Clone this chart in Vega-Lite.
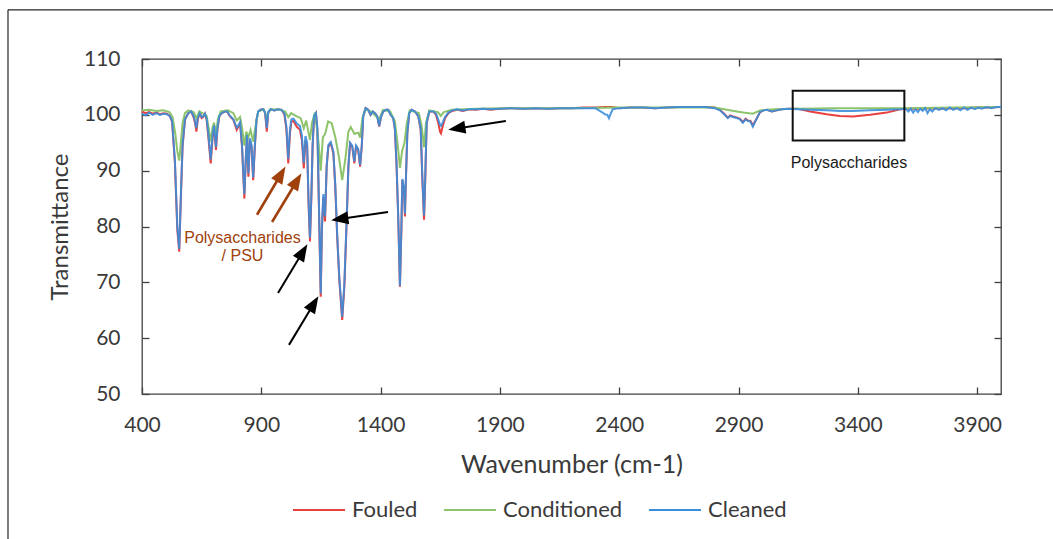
{
  "$schema": "https://vega.github.io/schema/vega-lite/v6.json",
  "width": 859,
  "height": 335,
  "autosize": "none",
  "padding": {"left": 142, "top": 59, "right": 52, "bottom": 145},
  "background": "#ffffff",
  "config": {
    "view": {"stroke": "#404040", "strokeWidth": 1.3},
    "axis": {
      "domain": false,
      "grid": false,
      "tickColor": "#404040",
      "tickWidth": 1.3,
      "tickSize": -7,
      "labelFont": "Lato",
      "labelFontSize": 21,
      "labelColor": "#3a3a3a",
      "titleFont": "Lato",
      "titleFontSize": 24,
      "titleFontWeight": "normal",
      "titleColor": "#3a3a3a"
    }
  },
  "datasets": {
    "fouled": [
      {"x":400,"y":100.6},{"x":415,"y":100.3},{"x":430,"y":100.5},{"x":445,"y":100.2},{"x":460,"y":100.4},{"x":475,"y":100.1},{"x":490,"y":100.3},{"x":505,"y":100.2},{"x":516,"y":99.8},{"x":526,"y":98.8},{"x":538,"y":91.3},{"x":548,"y":79.4},{"x":556,"y":75.5},{"x":563,"y":85.3},{"x":570,"y":94.3},{"x":580,"y":99.1},{"x":594,"y":100.3},{"x":606,"y":100.6},{"x":616,"y":99.6},{"x":622,"y":98.6},{"x":628,"y":97.0},{"x":634,"y":99.2},{"x":642,"y":100.3},{"x":650,"y":99.4},{"x":656,"y":99.6},{"x":664,"y":100.2},{"x":671,"y":99.1},{"x":678,"y":96.1},{"x":688,"y":91.3},{"x":696,"y":96.1},{"x":702,"y":97.9},{"x":710,"y":93.7},{"x":716,"y":97.3},{"x":724,"y":99.7},{"x":734,"y":100.3},{"x":748,"y":100.6},{"x":757,"y":100.6},{"x":769,"y":99.7},{"x":783,"y":99.1},{"x":797,"y":97.3},{"x":804,"y":97.9},{"x":811,"y":98.5},{"x":819,"y":94.3},{"x":829,"y":85.0},{"x":835,"y":91.9},{"x":840,"y":96.1},{"x":846,"y":88.9},{"x":852,"y":95.5},{"x":859,"y":94.3},{"x":866,"y":88.3},{"x":873,"y":94.3},{"x":880,"y":99.1},{"x":887,"y":100.6},{"x":897,"y":100.9},{"x":908,"y":101.0},{"x":916,"y":100.3},{"x":923,"y":97.0},{"x":929,"y":100.4},{"x":940,"y":101.0},{"x":955,"y":100.8},{"x":970,"y":101.0},{"x":985,"y":100.9},{"x":997,"y":100.0},{"x":1005,"y":97.5},{"x":1013,"y":91.3},{"x":1020,"y":96.7},{"x":1026,"y":98.8},{"x":1035,"y":98.9},{"x":1048,"y":97.9},{"x":1062,"y":97.3},{"x":1070,"y":95.5},{"x":1078,"y":90.4},{"x":1085,"y":95.5},{"x":1092,"y":94.5},{"x":1098,"y":84.0},{"x":1104,"y":77.3},{"x":1110,"y":85.5},{"x":1115,"y":94.3},{"x":1121,"y":99.7},{"x":1129,"y":100.3},{"x":1135,"y":97.3},{"x":1142,"y":82.4},{"x":1149,"y":67.4},{"x":1154,"y":79.4},{"x":1160,"y":85.3},{"x":1167,"y":80.9},{"x":1174,"y":90.7},{"x":1181,"y":94.3},{"x":1191,"y":94.9},{"x":1202,"y":93.1},{"x":1210,"y":87.1},{"x":1218,"y":78.2},{"x":1227,"y":70.4},{"x":1239,"y":63.25},{"x":1248,"y":69.2},{"x":1258,"y":81.2},{"x":1265,"y":90.7},{"x":1272,"y":94.9},{"x":1281,"y":94.3},{"x":1290,"y":91.3},{"x":1297,"y":94.3},{"x":1306,"y":93.7},{"x":1314,"y":90.7},{"x":1321,"y":94.3},{"x":1327,"y":99.7},{"x":1337,"y":101.2},{"x":1348,"y":100.9},{"x":1358,"y":100.0},{"x":1367,"y":100.6},{"x":1376,"y":100.3},{"x":1386,"y":99.7},{"x":1394,"y":97.9},{"x":1402,"y":99.7},{"x":1411,"y":100.6},{"x":1423,"y":100.9},{"x":1432,"y":100.9},{"x":1442,"y":100.0},{"x":1453,"y":99.4},{"x":1460,"y":97.3},{"x":1467,"y":90.7},{"x":1474,"y":81.2},{"x":1481,"y":69.2},{"x":1487,"y":79.4},{"x":1491,"y":88.3},{"x":1498,"y":86.5},{"x":1502,"y":81.8},{"x":1506,"y":88.3},{"x":1512,"y":96.7},{"x":1520,"y":100.3},{"x":1530,"y":100.9},{"x":1544,"y":100.6},{"x":1558,"y":99.7},{"x":1568,"y":97.3},{"x":1575,"y":88.3},{"x":1582,"y":81.2},{"x":1587,"y":88.3},{"x":1593,"y":98.5},{"x":1604,"y":100.6},{"x":1621,"y":100.6},{"x":1632,"y":100.0},{"x":1642,"y":98.5},{"x":1649,"y":97.0},{"x":1653,"y":96.7},{"x":1660,"y":97.9},{"x":1670,"y":99.4},{"x":1684,"y":100.3},{"x":1700,"y":100.7},{"x":1720,"y":100.9},{"x":1745,"y":100.7},{"x":1770,"y":101.0},{"x":1800,"y":100.9},{"x":1830,"y":101.1},{"x":1860,"y":100.9},{"x":1900,"y":101.1},{"x":1950,"y":101.2},{"x":2000,"y":101.1},{"x":2050,"y":101.2},{"x":2100,"y":101.1},{"x":2150,"y":101.2},{"x":2200,"y":101.2},{"x":2250,"y":101.3},{"x":2300,"y":101.3},{"x":2340,"y":101.4},{"x":2370,"y":101.4},{"x":2400,"y":101.2},{"x":2450,"y":101.3},{"x":2500,"y":101.3},{"x":2550,"y":101.2},{"x":2600,"y":101.3},{"x":2650,"y":101.4},{"x":2700,"y":101.4},{"x":2760,"y":101.4},{"x":2800,"y":101.3},{"x":2822,"y":100.9},{"x":2840,"y":100.2},{"x":2855,"y":99.5},{"x":2865,"y":99.9},{"x":2877,"y":99.7},{"x":2895,"y":99.5},{"x":2906,"y":99.3},{"x":2918,"y":98.7},{"x":2930,"y":99.3},{"x":2939,"y":99.0},{"x":2950,"y":98.9},{"x":2960,"y":98.1},{"x":2970,"y":98.9},{"x":2977,"y":99.4},{"x":2990,"y":100.5},{"x":3005,"y":100.8},{"x":3019,"y":100.9},{"x":3040,"y":100.6},{"x":3060,"y":100.8},{"x":3080,"y":101.0},{"x":3110,"y":101.1},{"x":3150,"y":101.1},{"x":3200,"y":100.6},{"x":3269,"y":100.1},{"x":3325,"y":99.8},{"x":3380,"y":99.7},{"x":3451,"y":100.0},{"x":3521,"y":100.4},{"x":3577,"y":101.0},{"x":3610,"y":101.1},{"x":3650,"y":101.1},{"x":3700,"y":101.2},{"x":3750,"y":101.1},{"x":3800,"y":101.2},{"x":3850,"y":101.2},{"x":3900,"y":101.3},{"x":3950,"y":101.3},{"x":4000,"y":101.4}
    ],
    "conditioned": [
      {"x":400,"y":100.8},{"x":430,"y":100.9},{"x":460,"y":100.7},{"x":490,"y":100.8},{"x":515,"y":100.5},{"x":528,"y":99.6},{"x":540,"y":96.5},{"x":548,"y":93.5},{"x":556,"y":91.8},{"x":563,"y":95.0},{"x":570,"y":98.5},{"x":580,"y":100.3},{"x":594,"y":100.8},{"x":616,"y":100.5},{"x":628,"y":99.4},{"x":640,"y":100.6},{"x":656,"y":100.2},{"x":671,"y":99.8},{"x":680,"y":97.5},{"x":688,"y":95.2},{"x":696,"y":97.8},{"x":702,"y":98.6},{"x":710,"y":96.5},{"x":718,"y":99.2},{"x":730,"y":100.6},{"x":760,"y":100.8},{"x":783,"y":100.3},{"x":797,"y":99.0},{"x":811,"y":99.6},{"x":820,"y":97.5},{"x":829,"y":94.5},{"x":837,"y":97.0},{"x":846,"y":96.0},{"x":855,"y":97.3},{"x":866,"y":95.2},{"x":875,"y":97.8},{"x":887,"y":100.6},{"x":910,"y":101.0},{"x":923,"y":99.6},{"x":935,"y":100.9},{"x":970,"y":101.0},{"x":1000,"y":100.6},{"x":1013,"y":99.6},{"x":1025,"y":100.3},{"x":1045,"y":99.8},{"x":1065,"y":99.4},{"x":1078,"y":97.6},{"x":1088,"y":99.0},{"x":1097,"y":97.0},{"x":1104,"y":95.5},{"x":1112,"y":98.5},{"x":1125,"y":100.4},{"x":1140,"y":95.0},{"x":1149,"y":90.0},{"x":1158,"y":96.0},{"x":1167,"y":96.5},{"x":1180,"y":98.8},{"x":1195,"y":98.5},{"x":1210,"y":96.0},{"x":1225,"y":92.5},{"x":1239,"y":88.3},{"x":1252,"y":92.0},{"x":1265,"y":97.0},{"x":1275,"y":97.8},{"x":1290,"y":96.6},{"x":1306,"y":96.8},{"x":1314,"y":95.9},{"x":1324,"y":99.5},{"x":1337,"y":101.0},{"x":1360,"y":100.6},{"x":1394,"y":99.2},{"x":1410,"y":100.9},{"x":1440,"y":100.6},{"x":1460,"y":98.8},{"x":1472,"y":94.5},{"x":1481,"y":90.5},{"x":1490,"y":93.5},{"x":1500,"y":95.0},{"x":1510,"y":98.5},{"x":1522,"y":100.8},{"x":1560,"y":100.3},{"x":1572,"y":98.0},{"x":1582,"y":94.2},{"x":1590,"y":98.5},{"x":1604,"y":100.8},{"x":1640,"y":100.5},{"x":1652,"y":99.8},{"x":1665,"y":100.5},{"x":1700,"y":100.9},{"x":1800,"y":101.1},{"x":1900,"y":101.2},{"x":2000,"y":101.2},{"x":2200,"y":101.2},{"x":2400,"y":101.3},{"x":2600,"y":101.3},{"x":2800,"y":101.3},{"x":2840,"y":101.0},{"x":2880,"y":100.7},{"x":2920,"y":100.4},{"x":2960,"y":100.2},{"x":2990,"y":100.8},{"x":3050,"y":101.0},{"x":3150,"y":101.1},{"x":3300,"y":101.2},{"x":3500,"y":101.2},{"x":3600,"y":101.2},{"x":3800,"y":101.3},{"x":4000,"y":101.4}
    ],
    "cleaned": [
      {"x":400,"y":100.2},{"x":415,"y":99.9},{"x":430,"y":100.4},{"x":445,"y":100.0},{"x":460,"y":100.3},{"x":475,"y":100.0},{"x":490,"y":100.2},{"x":505,"y":100.1},{"x":516,"y":99.8},{"x":526,"y":99.0},{"x":538,"y":91.8},{"x":548,"y":80.0},{"x":556,"y":76.0},{"x":563,"y":85.8},{"x":570,"y":94.6},{"x":580,"y":99.2},{"x":594,"y":100.3},{"x":606,"y":100.6},{"x":616,"y":99.8},{"x":622,"y":98.9},{"x":628,"y":97.6},{"x":634,"y":99.4},{"x":642,"y":100.3},{"x":650,"y":99.6},{"x":656,"y":99.7},{"x":664,"y":100.2},{"x":671,"y":99.3},{"x":678,"y":96.6},{"x":688,"y":92.0},{"x":696,"y":96.5},{"x":702,"y":98.1},{"x":710,"y":94.2},{"x":716,"y":97.6},{"x":724,"y":99.8},{"x":734,"y":100.3},{"x":748,"y":100.6},{"x":757,"y":100.6},{"x":769,"y":99.8},{"x":783,"y":99.2},{"x":797,"y":97.7},{"x":804,"y":98.1},{"x":811,"y":98.7},{"x":819,"y":94.8},{"x":829,"y":85.8},{"x":835,"y":92.3},{"x":840,"y":96.4},{"x":846,"y":89.5},{"x":852,"y":95.8},{"x":859,"y":94.6},{"x":866,"y":88.8},{"x":873,"y":94.6},{"x":880,"y":99.2},{"x":887,"y":100.6},{"x":897,"y":100.9},{"x":908,"y":101.0},{"x":916,"y":100.4},{"x":923,"y":97.6},{"x":929,"y":100.5},{"x":940,"y":101.0},{"x":955,"y":100.8},{"x":970,"y":101.0},{"x":985,"y":100.9},{"x":997,"y":100.2},{"x":1005,"y":98.0},{"x":1013,"y":92.1},{"x":1020,"y":97.3},{"x":1026,"y":99.2},{"x":1035,"y":99.3},{"x":1048,"y":98.5},{"x":1062,"y":98.0},{"x":1070,"y":96.3},{"x":1078,"y":91.4},{"x":1085,"y":96.2},{"x":1092,"y":95.0},{"x":1098,"y":84.6},{"x":1104,"y":78.0},{"x":1110,"y":86.0},{"x":1115,"y":94.6},{"x":1121,"y":99.8},{"x":1129,"y":100.3},{"x":1135,"y":97.6},{"x":1142,"y":83.0},{"x":1149,"y":68.0},{"x":1154,"y":80.0},{"x":1160,"y":85.8},{"x":1167,"y":81.8},{"x":1174,"y":91.0},{"x":1181,"y":94.6},{"x":1191,"y":95.1},{"x":1202,"y":93.4},{"x":1210,"y":87.5},{"x":1218,"y":78.6},{"x":1227,"y":70.8},{"x":1239,"y":63.8},{"x":1248,"y":69.7},{"x":1258,"y":81.6},{"x":1265,"y":90.9},{"x":1272,"y":95.0},{"x":1281,"y":94.5},{"x":1290,"y":91.6},{"x":1297,"y":94.5},{"x":1306,"y":93.9},{"x":1314,"y":91.0},{"x":1321,"y":94.5},{"x":1327,"y":99.7},{"x":1337,"y":101.2},{"x":1348,"y":100.9},{"x":1358,"y":100.0},{"x":1367,"y":100.6},{"x":1376,"y":100.3},{"x":1386,"y":99.7},{"x":1394,"y":98.0},{"x":1402,"y":99.7},{"x":1411,"y":100.6},{"x":1423,"y":100.9},{"x":1432,"y":100.9},{"x":1442,"y":100.0},{"x":1453,"y":99.4},{"x":1460,"y":97.5},{"x":1467,"y":91.0},{"x":1474,"y":81.6},{"x":1481,"y":69.4},{"x":1487,"y":79.8},{"x":1491,"y":88.5},{"x":1498,"y":86.9},{"x":1502,"y":82.3},{"x":1506,"y":88.6},{"x":1512,"y":96.8},{"x":1520,"y":100.3},{"x":1530,"y":100.9},{"x":1544,"y":100.6},{"x":1558,"y":99.8},{"x":1568,"y":97.6},{"x":1575,"y":88.8},{"x":1582,"y":82.0},{"x":1587,"y":88.8},{"x":1593,"y":98.6},{"x":1604,"y":100.6},{"x":1621,"y":100.6},{"x":1632,"y":100.2},{"x":1642,"y":99.1},{"x":1649,"y":98.2},{"x":1653,"y":98.0},{"x":1660,"y":98.6},{"x":1670,"y":99.6},{"x":1684,"y":100.4},{"x":1700,"y":100.8},{"x":1720,"y":101.0},{"x":1745,"y":100.8},{"x":1770,"y":101.0},{"x":1800,"y":101.0},{"x":1830,"y":101.1},{"x":1860,"y":101.0},{"x":1900,"y":101.1},{"x":1950,"y":101.2},{"x":2000,"y":101.1},{"x":2050,"y":101.2},{"x":2100,"y":101.1},{"x":2150,"y":101.2},{"x":2200,"y":101.2},{"x":2250,"y":101.2},{"x":2300,"y":101.2},{"x":2327,"y":100.5},{"x":2340,"y":100.1},{"x":2350,"y":100.0},{"x":2357,"y":99.4},{"x":2364,"y":100.2},{"x":2373,"y":101.0},{"x":2400,"y":101.2},{"x":2450,"y":101.3},{"x":2500,"y":101.3},{"x":2550,"y":101.2},{"x":2600,"y":101.3},{"x":2650,"y":101.4},{"x":2700,"y":101.4},{"x":2760,"y":101.4},{"x":2800,"y":101.2},{"x":2822,"y":100.8},{"x":2840,"y":100.1},{"x":2855,"y":99.4},{"x":2865,"y":99.8},{"x":2877,"y":99.6},{"x":2895,"y":99.4},{"x":2906,"y":99.2},{"x":2918,"y":98.6},{"x":2930,"y":99.2},{"x":2939,"y":98.9},{"x":2950,"y":98.8},{"x":2960,"y":97.9},{"x":2970,"y":98.8},{"x":2977,"y":99.4},{"x":2990,"y":100.5},{"x":3005,"y":100.8},{"x":3019,"y":100.9},{"x":3040,"y":100.6},{"x":3060,"y":100.8},{"x":3080,"y":101.0},{"x":3110,"y":101.1},{"x":3150,"y":101.0},{"x":3200,"y":100.9},{"x":3269,"y":100.8},{"x":3325,"y":100.7},{"x":3380,"y":100.7},{"x":3451,"y":100.8},{"x":3521,"y":100.9},{"x":3577,"y":101.0},{"x":3600,"y":101.1},{"x":3612,"y":100.6},{"x":3622,"y":101.1},{"x":3632,"y":100.4},{"x":3642,"y":101.0},{"x":3652,"y":100.5},{"x":3662,"y":101.1},{"x":3672,"y":100.7},{"x":3682,"y":101.2},{"x":3692,"y":100.3},{"x":3702,"y":101.0},{"x":3712,"y":100.6},{"x":3725,"y":101.2},{"x":3740,"y":100.9},{"x":3755,"y":101.2},{"x":3770,"y":100.8},{"x":3785,"y":101.3},{"x":3800,"y":100.9},{"x":3815,"y":101.2},{"x":3830,"y":100.8},{"x":3845,"y":101.3},{"x":3860,"y":100.9},{"x":3875,"y":101.3},{"x":3890,"y":101.0},{"x":3905,"y":101.3},{"x":3920,"y":101.1},{"x":3940,"y":101.4},{"x":3960,"y":101.2},{"x":3980,"y":101.4},{"x":4000,"y":101.4}
    ],
    "box": [
      {"x":3127,"x2":3595,"y":95.4,"y2":104.3}
    ],
    "notes": [
      {"kind":"psu","text":"Polysaccharides","x":821,"y":77.9},
      {"kind":"psu","text":"/ PSU","x":821,"y":74.7},
      {"kind":"box","text":"Polysaccharides","x":3363,"y":91.4}
    ],
    "arrows": [
      {"kind":"psu","x":882,"y":82.1,"x2":983,"y2":89.4},
      {"kind":"psu","x":945,"y":80.8,"x2":1049.5,"y2":88.2},
      {"kind":"band","x":970,"y":68.1,"x2":1074.5,"y2":75.5},
      {"kind":"band","x":1016,"y":58.8,"x2":1120.5,"y2":66.2},
      {"kind":"band","x":1431,"y":82.6,"x2":1228.5,"y2":81.35},
      {"kind":"band","x":1925,"y":98.9,"x2":1719,"y2":97.55}
    ],
    "frame": [
      {"x":-161.6,"y":118.8,"x2":4400,"y2":118.8},
      {"x":-161.6,"y":118.8,"x2":-161.6,"y2":0}
    ]
  },
  "resolve": {"axis": {"x": "independent", "y": "independent"}},
  "layer": [
    {
      "data": {"name": "fouled"},
      "mark": {"type": "line", "strokeWidth": 2},
      "encoding": {
        "x": {"field": "x", "type": "quantitative",
          "scale": {"domain": [400, 4000], "nice": false, "zero": false},
          "axis": {"orient": "bottom", "values": [400, 900, 1400, 1900, 2400, 2900, 3400, 3900], "format": "d", "labelFlush": false, "labelPadding": 27, "title": "Wavenumber (cm-1)", "titleFontSize": 25, "titlePadding": 17}},
        "y": {"field": "y", "type": "quantitative",
          "scale": {"domain": [50, 110], "nice": false, "zero": false},
          "axis": {"orient": "left", "values": [50, 60, 70, 80, 90, 100, 110], "format": "d", "labelFlush": false, "labelPadding": 29, "title": "Transmittance", "titlePadding": 11}},
        "color": {"datum": "Fouled", "type": "nominal",
          "scale": {"domain": ["Fouled", "Conditioned", "Cleaned"], "range": ["#e8403f", "#8dc36a", "#3a8ddb"]},
          "legend": {"title": null, "orient": "none", "legendX": 150, "legendY": 424, "direction": "horizontal",
            "symbolType": "stroke", "symbolSize": 2700, "symbolStrokeWidth": 2,
            "labelFont": "Lato", "labelFontSize": 22, "labelColor": "#3a3a3a", "labelOffset": 6, "columnPadding": 22}}
      }
    },
    {
      "data": {"name": "conditioned"},
      "mark": {"type": "line", "strokeWidth": 2},
      "encoding": {
        "x": {"field": "x", "type": "quantitative", "scale": {"domain": [400, 4000], "nice": false, "zero": false}, "axis": null},
        "y": {"field": "y", "type": "quantitative", "scale": {"domain": [50, 110], "nice": false, "zero": false}, "axis": null},
        "color": {"datum": "Conditioned", "type": "nominal"}
      }
    },
    {
      "data": {"name": "cleaned"},
      "mark": {"type": "line", "strokeWidth": 2, "strokeOpacity": 0.9},
      "encoding": {
        "x": {"field": "x", "type": "quantitative", "scale": {"domain": [400, 4000], "nice": false, "zero": false}, "axis": null},
        "y": {"field": "y", "type": "quantitative", "scale": {"domain": [50, 110], "nice": false, "zero": false}, "axis": null},
        "color": {"datum": "Cleaned", "type": "nominal"}
      }
    },
    {
      "data": {"name": "box"},
      "mark": {"type": "rect", "filled": false, "stroke": "#111111", "strokeWidth": 2},
      "encoding": {
        "x": {"field": "x", "type": "quantitative", "scale": {"domain": [400, 4000], "nice": false, "zero": false},
          "axis": {"orient": "top", "values": [400, 900, 1400, 1900, 2400, 2900, 3400, 3900], "labels": false, "title": null}},
        "x2": {"field": "x2"},
        "y": {"field": "y", "type": "quantitative", "scale": {"domain": [50, 110], "nice": false, "zero": false},
          "axis": {"orient": "right", "values": [50, 60, 70, 80, 90, 100, 110], "labels": false, "title": null}},
        "y2": {"field": "y2"}
      }
    },
    {
      "data": {"name": "notes"},
      "transform": [{"filter": "datum.kind === 'psu'"}],
      "mark": {"type": "text", "font": "Liberation Sans", "fontSize": 16, "color": "#a0410d", "align": "center", "baseline": "middle"},
      "encoding": {
        "x": {"field": "x", "type": "quantitative", "scale": {"domain": [400, 4000], "nice": false, "zero": false}, "axis": null},
        "y": {"field": "y", "type": "quantitative", "scale": {"domain": [50, 110], "nice": false, "zero": false}, "axis": null},
        "text": {"field": "text"}
      }
    },
    {
      "data": {"name": "notes"},
      "transform": [{"filter": "datum.kind === 'box'"}],
      "mark": {"type": "text", "font": "Liberation Sans", "fontSize": 16, "color": "#1a1a1a", "align": "center", "baseline": "middle"},
      "encoding": {
        "x": {"field": "x", "type": "quantitative", "scale": {"domain": [400, 4000], "nice": false, "zero": false}, "axis": null},
        "y": {"field": "y", "type": "quantitative", "scale": {"domain": [50, 110], "nice": false, "zero": false}, "axis": null},
        "text": {"field": "text"}
      }
    },
    {
      "data": {"name": "arrows"},
      "transform": [{"filter": "datum.kind === 'psu'"}],
      "mark": {"type": "rule", "color": "#a0410d", "strokeWidth": 2.6},
      "encoding": {
        "x": {"field": "x", "type": "quantitative", "scale": {"domain": [400, 4000], "nice": false, "zero": false}, "axis": null},
        "y": {"field": "y", "type": "quantitative", "scale": {"domain": [50, 110], "nice": false, "zero": false}, "axis": null},
        "x2": {"field": "x2"},
        "y2": {"field": "y2"}
      }
    },
    {
      "data": {"name": "arrows"},
      "transform": [{"filter": "datum.kind === 'band'"}],
      "mark": {"type": "rule", "color": "#000000", "strokeWidth": 2},
      "encoding": {
        "x": {"field": "x", "type": "quantitative", "scale": {"domain": [400, 4000], "nice": false, "zero": false}, "axis": null},
        "y": {"field": "y", "type": "quantitative", "scale": {"domain": [50, 110], "nice": false, "zero": false}, "axis": null},
        "x2": {"field": "x2"},
        "y2": {"field": "y2"}
      }
    },
    {
      "data": {"name": "arrows"},
      "transform": [
        {"filter": "datum.kind === 'psu'"},
        {"calculate": "atan2((datum.x2 - datum.x) * 859 / 3600, (datum.y2 - datum.y) * 335 / 60) * 180 / PI", "as": "heading"}
      ],
      "mark": {"type": "point", "shape": "M0,-1L0.75,1L-0.75,1Z", "filled": true, "size": 300, "color": "#a0410d", "opacity": 1},
      "encoding": {
        "x": {"field": "x2", "type": "quantitative", "scale": {"domain": [400, 4000], "nice": false, "zero": false}, "axis": null},
        "y": {"field": "y2", "type": "quantitative", "scale": {"domain": [50, 110], "nice": false, "zero": false}, "axis": null},
        "angle": {"field": "heading", "type": "quantitative", "scale": null}
      }
    },
    {
      "data": {"name": "arrows"},
      "transform": [
        {"filter": "datum.kind === 'band'"},
        {"calculate": "atan2((datum.x2 - datum.x) * 859 / 3600, (datum.y2 - datum.y) * 335 / 60) * 180 / PI", "as": "heading"}
      ],
      "mark": {"type": "point", "shape": "M0,-1L0.75,1L-0.75,1Z", "filled": true, "size": 300, "color": "#000000", "opacity": 1},
      "encoding": {
        "x": {"field": "x2", "type": "quantitative", "scale": {"domain": [400, 4000], "nice": false, "zero": false}, "axis": null},
        "y": {"field": "y2", "type": "quantitative", "scale": {"domain": [50, 110], "nice": false, "zero": false}, "axis": null},
        "angle": {"field": "heading", "type": "quantitative", "scale": null}
      }
    },
    {
      "data": {"name": "frame"},
      "mark": {"type": "rule", "color": "#262626", "strokeWidth": 1.2},
      "encoding": {
        "x": {"field": "x", "type": "quantitative", "scale": {"domain": [400, 4000], "nice": false, "zero": false}, "axis": null},
        "y": {"field": "y", "type": "quantitative", "scale": {"domain": [50, 110], "nice": false, "zero": false}, "axis": null},
        "x2": {"field": "x2"},
        "y2": {"field": "y2"}
      }
    }
  ]
}
